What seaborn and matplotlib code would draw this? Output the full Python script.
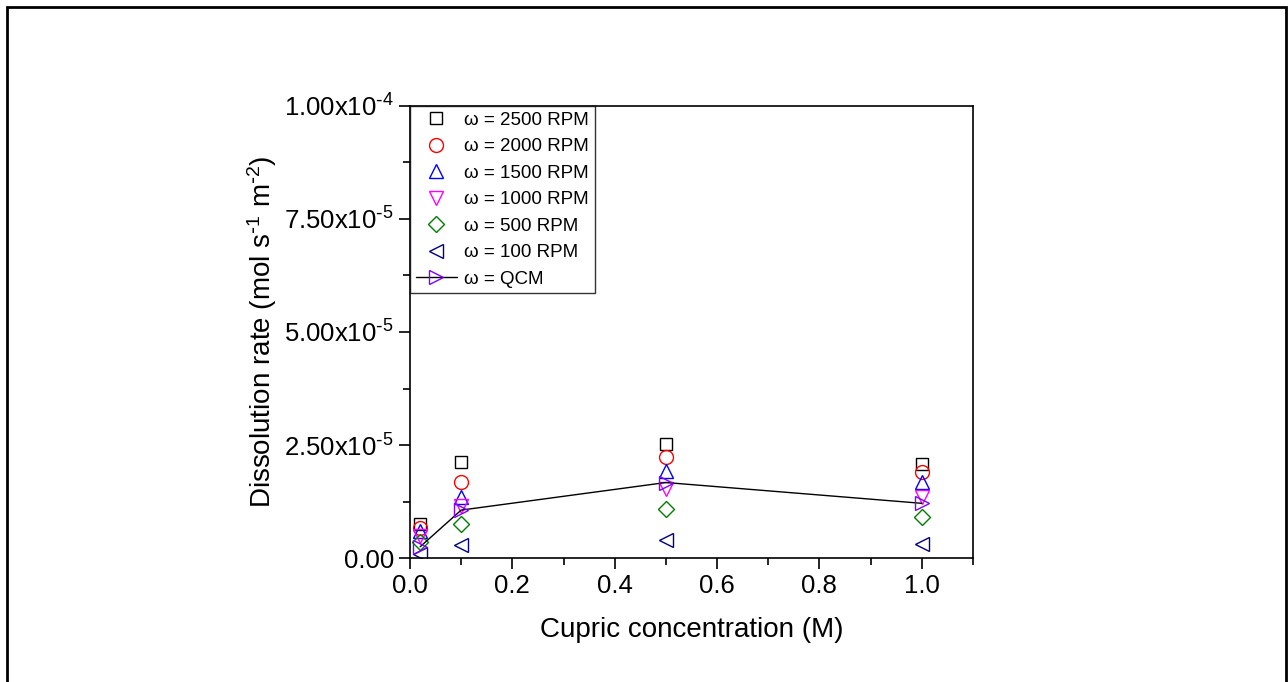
import numpy as np
import pandas as pd
import matplotlib
matplotlib.use('Agg')
import matplotlib.pyplot as plt
from matplotlib.ticker import AutoMinorLocator, FixedLocator, FixedFormatter
from matplotlib.patches import Rectangle
import seaborn as sns

# concentrations (M)
conc = [0.02, 0.1, 0.5, 1.0]

# dissolution rates (mol s-1 m-2)
rate_2500 = [0.75e-5, 2.13e-5, 2.52e-5, 2.08e-5]
rate_2000 = [0.66e-5, 1.69e-5, 2.24e-5, 1.90e-5]
rate_1500 = [0.60e-5, 1.36e-5, 1.93e-5, 1.69e-5]
rate_1000 = [0.49e-5, 1.15e-5, 1.52e-5, 1.34e-5]
rate_500 = [0.36e-5, 0.75e-5, 1.08e-5, 0.90e-5]
rate_100 = [0.08e-5, 0.29e-5, 0.40e-5, 0.31e-5]
rate_qcm = [0.25e-5, 1.06e-5, 1.67e-5, 1.21e-5]

labels = ['ω = 2500 RPM', 'ω = 2000 RPM', 'ω = 1500 RPM', 'ω = 1000 RPM',
          'ω = 500 RPM', 'ω = 100 RPM']
y_ticks = [0, 2.5e-5, 5e-5, 7.5e-5, 1e-4]
y_tick_labels = ['0.00', r'2.50x10$^{\text{-}5}$', r'5.00x10$^{\text{-}5}$',
                 r'7.50x10$^{\text{-}5}$', r'1.00x10$^{\text{-}4}$']

sns.set_style('ticks')
plt.rcParams['font.family'] = ['Liberation Sans', 'DejaVu Sans']
plt.rcParams['mathtext.default'] = 'regular'
for key in ['text.color', 'axes.labelcolor', 'xtick.color', 'ytick.color',
            'xtick.labelcolor', 'ytick.labelcolor']:
    plt.rcParams[key] = 'black'

fig = plt.figure(figsize=(12.88, 6.82), dpi=100)
ax = fig.add_axes([0.3183, 0.1818, 0.4371, 0.6628])

series = [rate_2500, rate_2000, rate_1500, rate_1000, rate_500, rate_100]
markers = ['s', 'o', '^', 'v', 'D', '<']
colors = ['black', 'red', 'blue', 'magenta', 'green', 'navy']
sizes = [9, 10, 10, 10, 8, 10]

for vals, lab, m, c, s in zip(series, labels, markers, colors, sizes):
    sns.lineplot(x=conc, y=vals, ax=ax, marker=m, linestyle='', mfc='none',
                 mec=c, color=c, ms=s, mew=1.0, label=lab)

sns.lineplot(x=conc, y=rate_qcm, ax=ax, marker='>', color='black', lw=1.0,
             mfc='none', mec='#8000ff', ms=10, mew=1.0, label='ω = QCM')

ax.set_xlim(0, 1.1)
ax.set_ylim(0, 1e-4)
ax.xaxis.set_major_locator(FixedLocator([0, 0.2, 0.4, 0.6, 0.8, 1.0]))
ax.set_xticklabels(['0.0', '0.2', '0.4', '0.6', '0.8', '1.0'])
ax.xaxis.set_minor_locator(AutoMinorLocator(2))
ax.yaxis.set_major_locator(FixedLocator(y_ticks))
ax.yaxis.set_major_formatter(FixedFormatter(y_tick_labels))
ax.yaxis.set_minor_locator(AutoMinorLocator(2))

ax.tick_params(which='major', direction='out', length=8, width=1.2, labelsize=18.5)
ax.tick_params(which='minor', direction='out', length=5, width=1.2)
for sp in ax.spines.values():
    sp.set_linewidth(1.2)
    sp.set_color('black')

ax.set_xlabel('Cupric concentration (M)', fontsize=20, labelpad=14)
ax.set_ylabel('Dissolution rate (mol s$^{\\text{-}1}$ m$^{\\text{-}2}$)', fontsize=20, labelpad=4)

leg = ax.legend(loc='upper left', bbox_to_anchor=(0, 1), borderaxespad=0,
                fontsize=13.5, frameon=True, fancybox=False, handlelength=2.2,
                handletextpad=0.4, labelspacing=0.5, borderpad=0.3)
leg.get_frame().set_edgecolor('black')
leg.get_frame().set_linewidth(1.0)

# outer frame of the picture
fig.patches.append(Rectangle((7 / 1288, -0.05), 1279 / 1288, 1.05 - 7 / 682,
                             transform=fig.transFigure, fill=False,
                             edgecolor='black', linewidth=2))

fig.savefig('out.png', dpi=100)
